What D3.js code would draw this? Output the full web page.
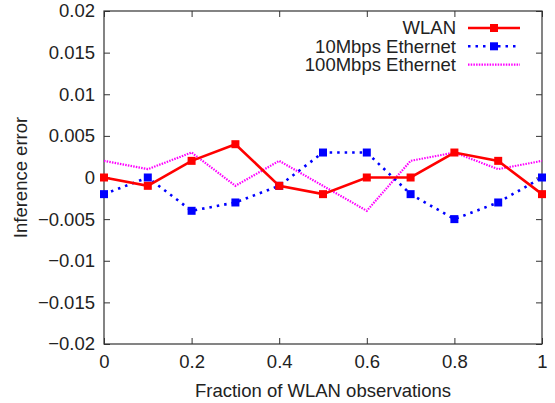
<!DOCTYPE html>
<html>
<head>
<meta charset="utf-8">
<script src="https://cdn.jsdelivr.net/npm/d3@7"></script>
<style>
  body { margin: 0; background: #fff; }
  svg text { font-family: "Liberation Sans", Arial, sans-serif; fill: #222; }
</style>
</head>
<body>
<div id="chart"></div>
<script>
const fractions = [0, 0.1, 0.2, 0.3, 0.4, 0.5, 0.6, 0.7, 0.8, 0.9, 1];
const wlan      = [0, -0.001, 0.002, 0.004, -0.001, -0.002, 0, 0, 0.003, 0.002, -0.002];
const eth10     = [-0.002, 0, -0.004, -0.003, -0.001, 0.003, 0.003, -0.002, -0.005, -0.003, 0];
const eth100    = [0.002, 0.001, 0.003, -0.001, 0.002, -0.001, -0.004, 0.002, 0.003, 0.001, 0.002];
const seriesNames = ["WLAN", "10Mbps Ethernet", "100Mbps Ethernet"];
const xTicks = [0, 0.2, 0.4, 0.6, 0.8, 1];
const yTicks = [-0.02, -0.015, -0.01, -0.005, 0, 0.005, 0.01, 0.015, 0.02];

const config = { width: 555, height: 403, left: 104, right: 13, top: 11, bottom: 59 };
const w = config.width - config.left - config.right;
const h = config.height - config.top - config.bottom;
const fontSize = 18.5;

const svg = d3.select("#chart").append("svg")
  .attr("width", config.width)
  .attr("height", config.height);

const g = svg.append("g")
  .attr("transform", `translate(${config.left},${config.top})`);

const xScale = d3.scaleLinear().domain([0, 1]).range([0, w]);
const yScale = d3.scaleLinear().domain([-0.02, 0.02]).range([h, 0]);

const fmt = d => d === 0 ? "0" : d3.format("")(+d.toFixed(3));

// axes with inward ticks, mirrored on top/right
const tickLen = 6;
g.append("g")
  .attr("transform", `translate(0,${h})`)
  .call(d3.axisBottom(xScale).tickValues(xTicks).tickSize(-tickLen).tickPadding(11).tickFormat(fmt));
g.append("g")
  .call(d3.axisTop(xScale).tickValues(xTicks).tickSize(-tickLen).tickFormat(""));
g.append("g")
  .call(d3.axisLeft(yScale).tickValues(yTicks).tickSize(-tickLen).tickPadding(9).tickFormat(fmt));
g.append("g")
  .attr("transform", `translate(${w},0)`)
  .call(d3.axisRight(yScale).tickValues(yTicks).tickSize(-tickLen).tickFormat(""));

g.selectAll(".domain").remove();
g.selectAll(".tick line").attr("stroke", "#333").attr("stroke-width", 1);
g.selectAll(".tick text").attr("font-size", fontSize).attr("fill", "#222")
  .style("font-family", "'Liberation Sans', Arial, sans-serif");

g.append("rect")
  .attr("width", w).attr("height", h)
  .attr("fill", "none").attr("stroke", "#333").attr("stroke-width", 1.2);

// axis titles
svg.append("text")
  .attr("x", config.left + w / 2)
  .attr("y", 397)
  .attr("text-anchor", "middle")
  .attr("font-size", fontSize)
  .text("Fraction of WLAN observations");

svg.append("text")
  .attr("transform", `translate(27,${config.top + h / 2}) rotate(-90)`)
  .attr("text-anchor", "middle")
  .attr("font-size", fontSize)
  .text("Inference error");

const styles = [
  { values: wlan, color: "#ff0000", width: 2.6, dash: null, marker: true },
  { values: eth10, color: "#0000ff", width: 2.6, dash: "2.5,5", marker: true },
  { values: eth100, color: "#ff00ff", width: 2.2, dash: "1.5,1.2", marker: false }
];

const line = d3.line()
  .x(d => xScale(d[0]))
  .y(d => yScale(d[1]));

// draw in reverse so WLAN sits on top
styles.slice().reverse().forEach(s => {
  const pts = fractions.map((f, i) => [f, s.values[i]]);
  g.append("path")
    .datum(pts)
    .attr("fill", "none")
    .attr("stroke", s.color)
    .attr("stroke-width", s.width)
    .attr("stroke-dasharray", s.dash)
    .attr("d", line);
  if (s.marker) {
    g.selectAll(null)
      .data(pts)
      .enter().append("rect")
      .attr("x", d => xScale(d[0]) - 4)
      .attr("y", d => yScale(d[1]) - 4)
      .attr("width", 8).attr("height", 8)
      .attr("fill", s.color);
  }
});

// legend
const legend = svg.append("g");
styles.forEach((s, i) => {
  const y = 28 + i * 18.3;
  legend.append("text")
    .attr("x", 456).attr("y", y)
    .attr("dy", "0.35em")
    .attr("text-anchor", "end")
    .attr("font-size", fontSize)
    .text(seriesNames[i]);
  legend.append("line")
    .attr("x1", 468).attr("x2", 520)
    .attr("y1", y).attr("y2", y)
    .attr("stroke", s.color)
    .attr("stroke-width", s.width)
    .attr("stroke-dasharray", s.dash);
  if (s.marker) {
    legend.append("rect")
      .attr("x", 490).attr("y", y - 4)
      .attr("width", 8).attr("height", 8)
      .attr("fill", s.color);
  }
});
</script>
</body>
</html>
